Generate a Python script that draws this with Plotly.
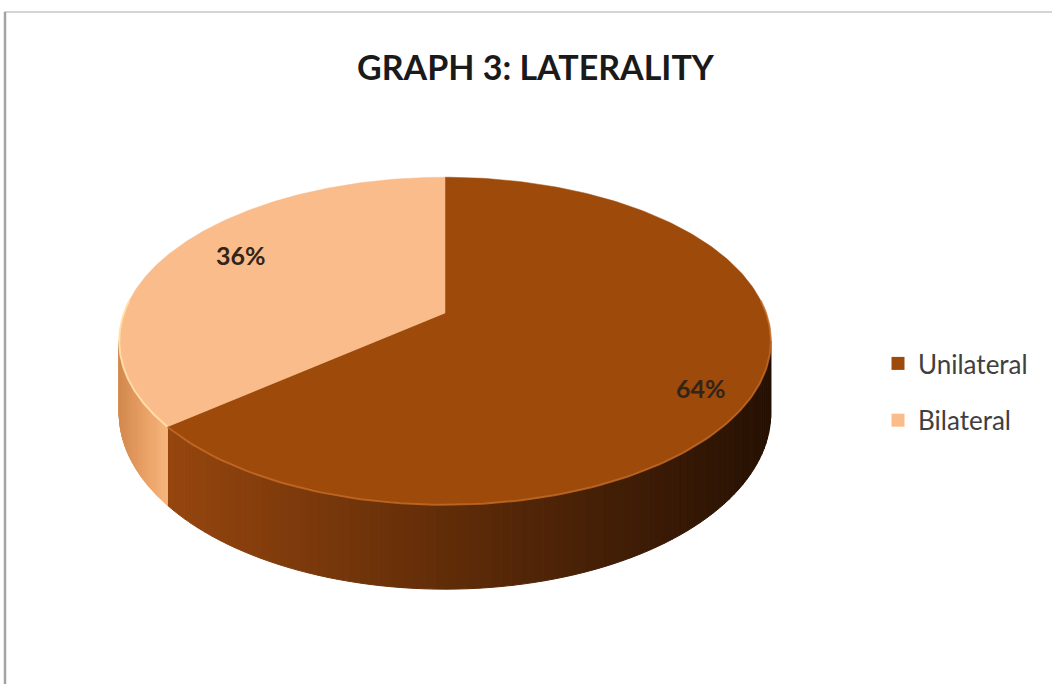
import numpy as np
import plotly.graph_objects as go

# ---- data -------------------------------------------------------------
categories = ["Unilateral", "Bilateral"]
percent = [64, 36]
label_text = ["64%", "36%"]

# ---- style ------------------------------------------------------------
TOP_COLORS = ["#9d4a0a", "#f9bc8a"]
# side-wall gradient stops (left -> right, in screen x)
SIDE_STOPS = [
    [(150, 70, 14), (92, 42, 8), (38, 17, 3)],
    [(212, 138, 80), (232, 160, 100), (246, 182, 126)],
]
LABEL_OFFSETS = [(9, 17), (5, -9)]  # pixel nudges for the percentage labels
LABEL_RADIUS = [0.80, 0.76]

W, H = 1052, 684
CX, CY = 445.0, 313.0          # pie centre on screen
KX, KY, P = 321.0, 159.0, 0.1708  # projection scales and perspective strength
DEPTH = 70.0                   # wall thickness (pixels, before perspective)


def project(phi, r=1.0, drop=0.0):
    """Tilted-disc perspective projection; phi measured clockwise from 12 o'clock."""
    X = r * np.sin(phi)
    D = r * np.cos(phi)
    s = 1.0 / (1.0 + P * D)
    return CX + KX * X * s, CY - KY * D * s + drop * s


def lerp_color(stops, t):
    t = min(max(t, 0.0), 1.0)
    seg = t * (len(stops) - 1)
    i = min(int(seg), len(stops) - 2)
    f = seg - i
    a, b = stops[i], stops[i + 1]
    c = [round(a[k] + (b[k] - a[k]) * f) for k in range(3)]
    return f"rgb({c[0]},{c[1]},{c[2]})"


total = float(sum(percent))
bounds = np.concatenate([[0.0], np.cumsum(percent) / total * 2 * np.pi])

# visible part of the outer wall (front half, silhouette with perspective)
vis0 = np.arccos(-P)
vis1 = 2 * np.pi - vis0

fig = go.Figure()

# outer walls, drawn as thin shaded strips
for i, name in enumerate(categories):
    a0, a1 = max(bounds[i], vis0), min(bounds[i + 1], vis1)
    if a1 <= a0:
        continue
    xl, _ = project(a0)
    xr, _ = project(a1)
    lo, hi = min(xl, xr), max(xl, xr)
    n = 80
    edges = np.linspace(a0, a1, n + 1)
    for j in range(n):
        ph = np.linspace(edges[j], edges[j + 1], 4)
        tx, ty = project(ph)
        bx, by = project(ph[::-1], drop=DEPTH)
        mx, _ = project(0.5 * (edges[j] + edges[j + 1]))
        t = (mx - lo) / (hi - lo) if hi > lo else 0.5
        col = lerp_color(SIDE_STOPS[i], t)
        fig.add_trace(go.Scatter(
            x=np.concatenate([tx, bx, tx[:1]]),
            y=np.concatenate([ty, by, ty[:1]]),
            mode="lines", fill="toself", fillcolor=col,
            line=dict(color=col, width=1),
            hoverinfo="skip", showlegend=False,
        ))

# top faces
for i, name in enumerate(categories):
    ph = np.linspace(bounds[i], bounds[i + 1], 240)
    ax, ay = project(ph)
    fig.add_trace(go.Scatter(
        x=np.concatenate([[CX], ax, [CX]]),
        y=np.concatenate([[CY], ay, [CY]]),
        mode="lines", fill="toself", fillcolor=TOP_COLORS[i],
        line=dict(color=TOP_COLORS[i], width=0.5),
        name=name, hoverinfo="name", showlegend=False,
    ))

# bevel highlight along the front rim
rim_cols = ["rgba(200,110,40,0.75)", "rgba(255,226,170,0.9)"]
for i in range(len(categories)):
    a0, a1 = max(bounds[i], vis0 - 0.25), min(bounds[i + 1], vis1 + 0.25)
    if a1 <= a0:
        continue
    ph = np.linspace(a0, a1, 120)
    rx, ry = project(ph)
    fig.add_trace(go.Scatter(
        x=rx, y=ry, mode="lines", line=dict(color=rim_cols[i], width=2),
        hoverinfo="skip", showlegend=False,
    ))

# percentage labels
for i, txt in enumerate(label_text):
    mid = 0.5 * (bounds[i] + bounds[i + 1])
    lx, ly = project(mid, r=LABEL_RADIUS[i])
    fig.add_annotation(
        x=lx + LABEL_OFFSETS[i][0], y=ly + LABEL_OFFSETS[i][1],
        text=f"<b>{txt}</b>", showarrow=False,
        font=dict(family="Lato", size=25, color="#33241a"),
    )

# legend entries
for i, name in enumerate(categories):
    fig.add_trace(go.Scatter(
        x=[None], y=[None], mode="markers", name=name, legendgroup=name,
        marker=dict(symbol="square", size=13, color=TOP_COLORS[i]),
    ))

fig.add_annotation(
    x=536, y=66, text="<b>GRAPH 3: LATERALITY</b>", showarrow=False,
    font=dict(family="Lato", size=34, color="#1a1a1a"),
)

# chart frame
fig.add_shape(type="rect", x0=5, y0=12, x1=W + 20, y1=H + 20,
              xref="x", yref="y", line=dict(color="#c6c6c6", width=1.5))
fig.add_shape(type="line", x0=5, y0=12, x1=5, y1=H + 20,
              xref="x", yref="y", line=dict(color="#a4a4a4", width=2.5))

fig.update_layout(
    width=W, height=H,
    margin=dict(l=0, r=0, t=0, b=0),
    paper_bgcolor="white", plot_bgcolor="white",
    xaxis=dict(range=[0, W], visible=False, fixedrange=True),
    yaxis=dict(range=[H, 0], visible=False, fixedrange=True),
    showlegend=True,
    legend=dict(
        x=878 / W, y=1 - 340 / H, xanchor="left", yanchor="top",
        font=dict(family="Lato", size=26, color="#404040"),
        tracegroupgap=20, bgcolor="rgba(0,0,0,0)",
    ),
)

fig.write_html("out.html")
